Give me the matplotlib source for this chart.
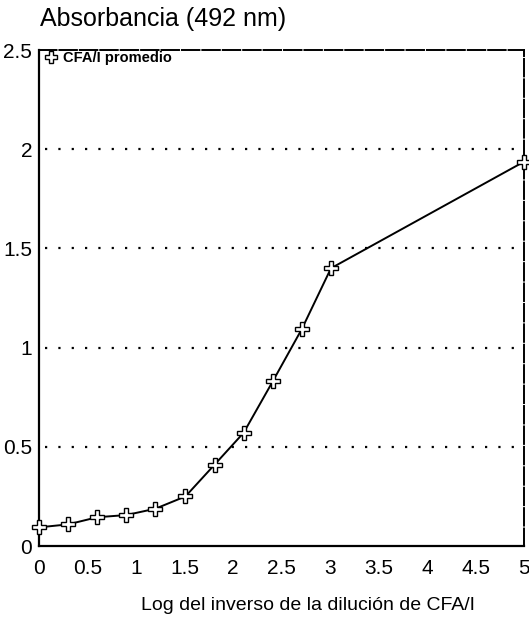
import matplotlib
matplotlib.use("Agg")
import matplotlib.pyplot as plt

# log del inverso de la dilucion (diluciones dobles) y absorbancia
log_dil = [0.0, 0.30, 0.60, 0.90, 1.20, 1.51, 1.81, 2.11, 2.41, 2.71, 3.01, 5.0]
absorb = [0.094, 0.109, 0.145, 0.156, 0.188, 0.25, 0.41, 0.571, 0.83, 1.094, 1.40, 1.937]

x_ticks = [0, 0.5, 1, 1.5, 2, 2.5, 3, 3.5, 4, 4.5, 5]
x_labels = ["0", "0.5", "1", "1.5", "2", "2.5", "3", "3.5", "4", "4.5", "5"]
y_ticks = [0, 0.5, 1, 1.5, 2, 2.5]
y_labels = ["0", "0.5", "1", "1.5", "2", "2.5"]
grid_levels = [0.5, 1, 1.5, 2]

plt.rcParams["font.family"] = ["Liberation Sans", "DejaVu Sans"]

W, H = 529, 623
fig = plt.figure(figsize=(W / 100, H / 100), dpi=100)
left, right, top, bottom = 39, 524, 50, 546
ax = fig.add_axes([left / W, 1 - bottom / H, (right - left) / W, (bottom - top) / H])

ax.set_xlim(0, 5)
ax.set_ylim(0, 2.5)

# dotted reference lines
for g in grid_levels:
    ax.axhline(g, xmin=0.012, xmax=0.99, color="black", linestyle=(0, (1, 5)),
               linewidth=1.6, zorder=1)

ax.plot(log_dil, absorb, color="black", linewidth=1.4, marker="P", markersize=10,
        markerfacecolor="white", markeredgecolor="black", markeredgewidth=1.0,
        label="CFA/I promedio", zorder=3, clip_on=False)

ax.set_xticks(x_ticks)
ax.set_xticklabels(x_labels)
ax.set_yticks(y_ticks)
ax.set_yticklabels(y_labels)
ax.tick_params(length=0, labelsize=15)
ax.tick_params(axis="x", pad=9)
ax.tick_params(axis="y", pad=5)

for side in ["left", "bottom"]:
    ax.spines[side].set_linewidth(1.6)
for side in ["top", "right"]:
    ax.spines[side].set_linewidth(1.4)
    ax.spines[side].set_linestyle((0, (9, 1.5)))

leg = ax.legend(loc="upper left", bbox_to_anchor=(12 / 485, 1 - 1 / 496), frameon=False,
                handlelength=0, handletextpad=0.8, borderaxespad=0.0, borderpad=0.0,
                prop={"size": 10.5, "weight": "bold"}, markerscale=0.8)

fig.text(40 / W, 1 - 19 / H, "Absorbancia (492 nm)", fontsize=18, va="center", ha="left")
fig.text(308 / W, 1 - 606 / H, "Log del inverso de la dilución de CFA/I", fontsize=14,
         va="center", ha="center")

fig.savefig("out.png", dpi=100)
